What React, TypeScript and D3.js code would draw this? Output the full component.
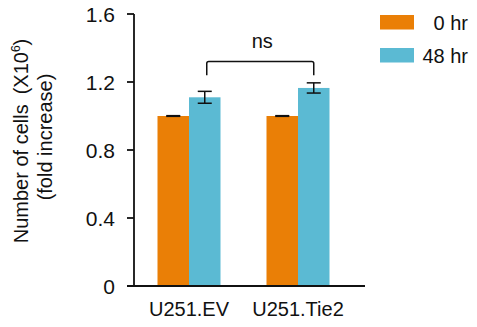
import React from 'react';
import * as d3 from 'd3';

const groups = ["U251.EV", "U251.Tie2"];
const series = ["0 hr", "48 hr"];
const values0 = [1.0, 1.0];
const values48 = [1.11, 1.165];
const err0 = [0.002, 0.002];
const err48 = [0.035, 0.03];
const yTicks = [0, 0.4, 0.8, 1.2, 1.6];
const colors = ["#EA7F06", "#5BBAD3"];

const W = 477;
const H = 327;
const font = "'Liberation Sans', Arial, sans-serif";

const App = () => {
  const yScale = d3.scaleLinear().domain([0, 1.6]).range([286, 14]);
  const x0 = d3.scaleBand().domain(groups).range([134.5, 352.5]).padding(0);
  const x1 = d3.scaleBand().domain(series)
    .range([x0.bandwidth() / 2 - 31.5, x0.bandwidth() / 2 + 31.5]).padding(0);

  const bars = groups.flatMap((g, i) => [
    { g, s: series[0], v: values0[i], e: err0[i], c: colors[0] },
    { g, s: series[1], v: values48[i], e: err48[i], c: colors[1] },
  ]);

  // bracket over the 48 hr bars
  const bx1 = (x0(groups[0]) ?? 0) + (x1(series[1]) ?? 0) + x1.bandwidth() / 2 + 2;
  const bx2 = (x0(groups[1]) ?? 0) + (x1(series[1]) ?? 0) + x1.bandwidth() / 2;
  const bTop = yScale(1.32);
  const bBot = yScale(1.24);

  return (
    <svg width={W} height={H} style={{ position: 'absolute', left: 0, top: 0 }} fontFamily={font}>
      <rect width={W} height={H} fill="#fff" />

      {bars.map((d, i) => {
        const x = (x0(d.g) ?? 0) + (x1(d.s) ?? 0);
        const cx = x + x1.bandwidth() / 2;
        return (
          <g key={i}>
            <rect x={x} y={yScale(d.v)} width={x1.bandwidth()} height={yScale(0) - yScale(d.v)} fill={d.c} />
            <line x1={cx} x2={cx} y1={yScale(d.v + d.e)} y2={yScale(d.v - d.e)} stroke="#111" strokeWidth={1.5} />
            <line x1={cx - 7} x2={cx + 7} y1={yScale(d.v + d.e)} y2={yScale(d.v + d.e)} stroke="#111" strokeWidth={1.5} />
            <line x1={cx - 7} x2={cx + 7} y1={yScale(d.v - d.e)} y2={yScale(d.v - d.e)} stroke="#111" strokeWidth={1.5} />
          </g>
        );
      })}

      {/* axes */}
      <line x1={134} x2={134} y1={yScale(1.6)} y2={yScale(0)} stroke="#111" strokeWidth={1.8} />
      <line x1={127} x2={365} y1={yScale(0)} y2={yScale(0)} stroke="#111" strokeWidth={1.8} />
      {yTicks.map(t => (
        <g key={t}>
          <line x1={127} x2={134} y1={yScale(t)} y2={yScale(t)} stroke="#111" strokeWidth={1.8} />
          <text x={115} y={yScale(t)} dy="0.36em" textAnchor="end" fontSize={21} fill="#111">{String(t)}</text>
        </g>
      ))}
      {groups.map(g => (
        <text key={g} x={(x0(g) ?? 0) + x0.bandwidth() / 2} y={316} textAnchor="middle" fontSize={20} fill="#111">{g}</text>
      ))}

      {/* y label */}
      <g transform="translate(28,141) rotate(-90)">
        <text x={0} y={0} textAnchor="middle" fontSize={20} fill="#111">
          Number of cells<tspan dx={10}>(X10</tspan><tspan fontSize={12} dy={-8}>6</tspan><tspan dy={8}>)</tspan>
        </text>
      </g>
      <g transform="translate(52,137) rotate(-90)">
        <text x={0} y={0} textAnchor="middle" fontSize={20} fill="#111">(fold increase)</text>
      </g>

      {/* significance bracket */}
      <path d={`M${bx1},${bBot} L${bx1},${bTop + 2} Q${bx1},${bTop} ${bx1 + 2},${bTop} L${bx2 - 2},${bTop} Q${bx2},${bTop} ${bx2},${bTop + 2} L${bx2},${bBot}`}
        fill="none" stroke="#111" strokeWidth={1.5} />
      <text x={(bx1 + bx2) / 2 + 2} y={48} textAnchor="middle" fontSize={20} fill="#111">ns</text>

      {/* legend */}
      {series.map((s, i) => (
        <g key={s}>
          <rect x={380} y={15 + i * 33} width={34} height={14.5} fill={colors[i]} />
          <text x={468} y={30 + i * 33} textAnchor="end" fontSize={20} fill="#111">{s}</text>
        </g>
      ))}
    </svg>
  );
};

export default App;
